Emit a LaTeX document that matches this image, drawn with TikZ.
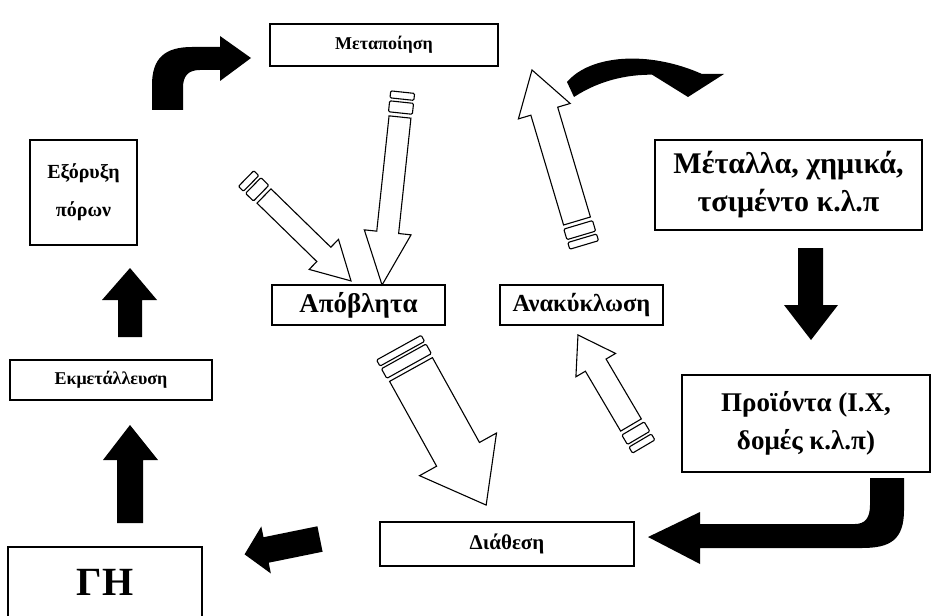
\documentclass[tikz,border=0pt]{standalone}
\usepackage{fontspec}
\setmainfont{Liberation Serif}
\begin{document}
\begin{tikzpicture}[x=1pt,y=-1pt,
  box/.style={draw,line width=1.3pt,fill=white,inner sep=0pt,align=center,font=\bfseries\fontsize{17}{38}\selectfont},
  fs/.style={font=\bfseries\fontsize{#1}{38}\selectfont},
  hollow/.style={draw,line width=1.1pt,fill=white,line join=miter},
  strp/.style={draw,line width=1.1pt,fill=white,rounded corners=1.2pt},
  blk/.style={fill=black}]
\useasboundingbox (0,0) rectangle (941,615);
% striped hollow arrow: #1 tail, #2 angle, #3 length, #4 shaft half width, #5 head half width, #6 head length
\newcommand\striparrow[6]{%
\begin{scope}[shift={(#1)},rotate=#2]
 \draw[hollow] (0,-#4) -- ({#3-#6},-#4) -- ({#3-#6},-#5) -- (#3,0) -- ({#3-#6},#5) -- ({#3-#6},#4) -- (0,#4) -- cycle;
 \draw[strp] (-4,{-#4-1}) rectangle (-15,{#4+1});
 \draw[strp] (-18,{-#4-1}) rectangle (-25,{#4+1});
\end{scope}}

% boxes
\node[box,fs=18,minimum width=228,minimum height=42] (meta) at (384,45) {Μεταποίηση};
\node[box,fs=20,minimum width=107,minimum height=105] (exor) at (83.5,192.5) {Εξόρυξη\\πόρων};
\node[box,fs=30,minimum width=267,minimum height=90] (metal) at (788.5,185) {Μέταλλα, χημικά,\\τσιμέντο κ.λ.π};
\node[box,fs=27,minimum width=173,minimum height=40] (apob) at (358.5,305) {Απόβλητα};
\node[box,fs=24.5,minimum width=163,minimum height=40] (anak) at (581.5,305) {Ανακύκλωση};
\node[box,fs=18,minimum width=202,minimum height=40] (ekm) at (111,380) {Εκμετάλλευση};
\node[box,fs=27,minimum width=248,minimum height=97] (proi) at (806,423.5) {Προϊόντα (Ι.Χ,\\δομές κ.λ.π)};
\node[box,fs=21,minimum width=254,minimum height=44] (diat) at (507,544) {Διάθεση};
\draw[line width=1.3pt] (8,620) -- (8,547) -- (202,547) -- (202,620);
\node[font=\bfseries\fontsize{40}{40}\selectfont,inner sep=0pt] (gh) at (105,582) {ΓΗ};

% black arrows
\fill[blk] (152,110) -- (152,85) .. controls (152,58) and (165,47) .. (192,47) -- (220,47) -- (220,36) -- (251,58) -- (220,81) -- (220,70) -- (200,70) .. controls (188,70) and (183,76) .. (183,88) -- (183,110) -- cycle;
\fill[blk] (567,82) .. controls (590,55) and (648,50) .. (702,74) -- (724,74) -- (688,97) -- (651,74) -- (662,75) .. controls (630,73) and (600,80) .. (574,97) -- cycle;
\fill[blk] (798,248) -- (823,248) -- (823,305) -- (838,305) -- (811,340) -- (784,305) -- (798,305) -- cycle;
\fill[blk] (870,478) -- (904,478) -- (904,510) .. controls (904,540) and (890,548) .. (862,548) -- (700,548) -- (700,564) -- (648,537) -- (700,512) -- (700,524) -- (855,524) .. controls (865,524) and (870,518) .. (870,505) -- cycle;
\begin{scope}[shift={(320,539)},rotate=-168.5]
\fill[blk] (0,-13) -- (55,-13) -- (55,-24) -- (77,0) -- (55,24) -- (55,13) -- (0,13) -- cycle;
\end{scope}
\fill[blk] (117,523) -- (143,523) -- (143,460) -- (158,460) -- (130,425) -- (103,460) -- (117,460) -- cycle;
\fill[blk] (118,337) -- (142,337) -- (142,300) -- (157,300) -- (130,268) -- (102,300) -- (118,300) -- cycle;

% hollow striped arrows
\striparrow{400,117}{-96.1}{169}{11}{23.5}{53}
\striparrow{264,196}{-44.3}{121.6}{10}{21}{38}
\striparrow{577,221}{106.6}{157.6}{14}{27}{43}
\striparrow{411,369.5}{-61}{155}{24.5}{44}{58}
\striparrow{631,425}{120.5}{104.5}{12}{23}{35}
\end{tikzpicture}
\end{document}
